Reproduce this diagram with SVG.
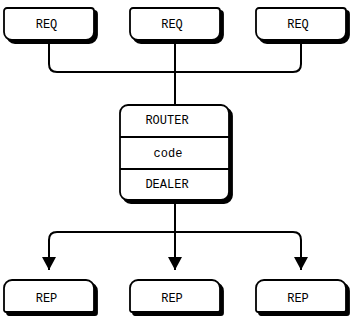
<svg xmlns="http://www.w3.org/2000/svg" width="351" height="336" viewBox="0 0 351 336">
<style>
.box{fill:#fff;stroke:#000;stroke-width:1.8}
.sh{fill:#000;stroke:#000;stroke-width:1.8}
.ln{fill:none;stroke:#000;stroke-width:2}
text{font-family:"Liberation Mono","Courier New",monospace;font-size:12px;fill:#000;text-anchor:middle}
</style>
<defs>
<path id="req" d="M3,0 H87 A3,3 0 0 1 90,3 V24 A8,8 0 0 1 82,32 H8 A8,8 0 0 1 0,24 V3 A3,3 0 0 1 3,0 Z"/>
<path id="rep" d="M8,0 H82 A8,8 0 0 1 90,8 V30 A2,2 0 0 1 88,32 H2 A2,2 0 0 1 0,30 V8 A8,8 0 0 1 8,0 Z"/>
<marker id="ar" markerWidth="14" markerHeight="13" refX="7" refY="13" orient="0" markerUnits="userSpaceOnUse">
<path d="M0,0 H14 L7,13 Z" fill="#000"/>
</marker>
</defs>
<g id="connectors">
<path class="ln" d="M49,40 V64 Q49,72 57,72 H293 Q301,72 301,64 V40"/>
<path class="ln" d="M175,40 V105"/>
<path class="ln" d="M175,200 V270" marker-end="url(#ar)"/>
<path class="ln" d="M49,270 V240 Q49,232 57,232 H293 Q301,232 301,240 V270" marker-start="url(#ar)" marker-end="url(#ar)"/>
</g>
<g id="req1"><use href="#req" class="sh" x="7" y="11"/><use href="#req" class="box" x="4" y="8"/><text x="46.5" y="28">REQ</text></g>
<g id="req2"><use href="#req" class="sh" x="133" y="11"/><use href="#req" class="box" x="130" y="8"/><text x="172" y="28">REQ</text></g>
<g id="req3"><use href="#req" class="sh" x="259" y="11"/><use href="#req" class="box" x="256" y="8"/><text x="298" y="28">REQ</text></g>
<g id="router">
<rect class="sh" x="123" y="108" width="109" height="95" rx="8"/>
<rect class="box" x="120" y="105" width="109" height="95" rx="8"/>
<line class="ln" x1="120" y1="137" x2="229" y2="137" style="stroke-width:1.8"/>
<line class="ln" x1="120" y1="169" x2="229" y2="169" style="stroke-width:1.8"/>
<text x="167" y="124">ROUTER</text>
<text x="168" y="157">code</text>
<text x="167" y="188">DEALER</text>
</g>
<g id="rep1"><use href="#rep" class="sh" x="7" y="283"/><use href="#rep" class="box" x="4" y="280"/><text x="46.5" y="302">REP</text></g>
<g id="rep2"><use href="#rep" class="sh" x="133" y="283"/><use href="#rep" class="box" x="130" y="280"/><text x="172" y="302">REP</text></g>
<g id="rep3"><use href="#rep" class="sh" x="259" y="283"/><use href="#rep" class="box" x="256" y="280"/><text x="298" y="302">REP</text></g>
</svg>
